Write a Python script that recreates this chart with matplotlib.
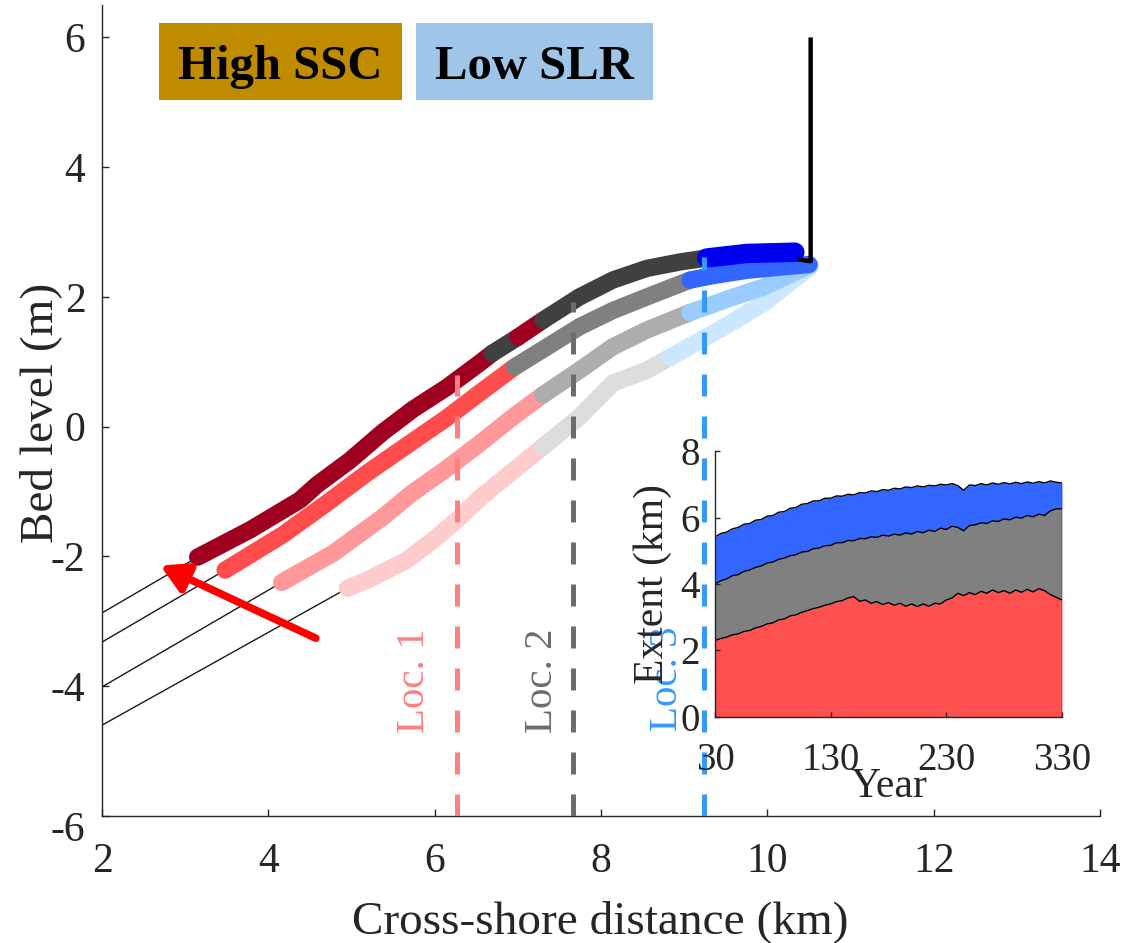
import matplotlib
matplotlib.use("Agg")
import matplotlib.pyplot as plt
from matplotlib.patches import Rectangle
from matplotlib.transforms import ScaledTranslation
import numpy as np

plt.rcParams['font.family'] = ['Liberation Serif', 'DejaVu Serif']

# ---------------- data ----------------
xticks = [2, 4, 6, 8, 10, 12, 14]
xtick_labels = ['2', '4', '6', '8', '10', '12', '14']
yticks = [-6, -4, -2, 0, 2, 4, 6]
ytick_labels = ['-6', '-4', '-2', '0', '2', '4', '6']

# profile 1 (darkest)
p1_x = [3.15, 3.78, 4.38, 4.58, 4.98, 5.38, 5.74, 6.15, 6.54, 6.69, 7.00, 7.30,
        7.74, 8.14, 8.55, 8.95, 9.27, 9.75, 10.33]
p1_z = [-2.01, -1.59, -1.13, -0.90, -0.52, -0.08, 0.27, 0.61, 0.98, 1.13, 1.38, 1.64,
        2.00, 2.26, 2.44, 2.54, 2.60, 2.67, 2.69]
p1_breaks = [3.15, 6.69, 7.00, 7.30, 9.27, 10.33]
p1_colors = ['#a00020', '#404040', '#a00020', '#404040', '#0000f0']
p1_widths = [12.5, 12.5, 12.5, 12.5, 14]

# profile 2
p2_x = [3.48, 4.18, 4.70, 5.18, 5.72, 6.15, 6.54, 6.96, 7.35, 7.74, 8.14, 8.55,
        9.07, 9.35, 9.75, 10.15, 10.50]
p2_z = [-2.21, -1.66, -1.18, -0.72, -0.24, 0.14, 0.52, 0.92, 1.23, 1.54, 1.79, 2.00,
        2.26, 2.33, 2.41, 2.46, 2.50]
p2_breaks = [3.48, 6.96, 9.07, 10.50]
p2_colors = ['#ff4d4d', '#808080', '#3366ff']
p2_widths = [12.5, 12.5, 12.5]

# profile 3
p3_x = [4.16, 4.78, 5.38, 5.72, 6.15, 6.54, 6.94, 7.30, 7.74, 8.14, 8.55, 9.07,
        9.55, 9.95, 10.51]
p3_z = [-2.40, -1.95, -1.39, -1.03, -0.64, -0.26, 0.15, 0.49, 0.87, 1.23, 1.49, 1.76,
        1.98, 2.15, 2.49]
p3_breaks = [4.16, 7.30, 9.07, 10.51]
p3_colors = ['#ff9999', '#adadad', '#99ccff']
p3_widths = [12.5, 12.5, 12.5]

# profile 4 (lightest)
p4_x = [4.95, 5.18, 5.66, 5.98, 6.30, 6.54, 7.30, 7.74, 8.14, 8.55, 8.83, 9.35,
        9.95, 10.51]
p4_z = [-2.49, -2.37, -2.06, -1.75, -1.40, -1.10, -0.31, 0.15, 0.67, 0.87, 1.07, 1.44,
        1.90, 2.46]
p4_breaks = [4.95, 7.30, 8.83, 10.51]
p4_colors = ['#ffcccc', '#dcdcdc', '#cce8ff']
p4_widths = [12.5, 12.5, 12.5]

# seaward (thin black) start elevations at x = 2 km
seaward_x = 2.0
seaward_z = [-2.87, -3.32, -4.01, -4.60]

# dike / wall
wall_x = [10.36, 10.52, 10.52]
wall_z = [2.58, 2.55, 6.0]

# location markers
loc_x = [6.27, 7.66, 9.24]
loc_top = [0.79, 1.92, 2.61]
loc_names = ['Loc. 1', 'Loc. 2', 'Loc. 3']
loc_colors = ['#ff7f7f', '#6f6b6b', '#3399ff']
loc_text_x = [5.76, 7.29, 8.80]
loc_text_y = [-3.91, -3.91, -3.88]

# arrow
arrow_tail = (4.57, -3.26)
arrow_head = (2.70, -2.14)

# inset: extent (km) boundaries, years 30..330 every 5 years
years = list(range(30, 335, 5))
b_red = [2.30, 2.36, 2.40, 2.47, 2.50, 2.57, 2.60, 2.68, 2.72, 2.80, 2.83, 2.92, 2.95,
         3.04, 3.07, 3.15, 3.20, 3.26, 3.30, 3.36, 3.40, 3.47, 3.50, 3.58, 3.62, 3.48,
         3.52, 3.42, 3.47, 3.38, 3.44, 3.36, 3.42, 3.33, 3.40, 3.32, 3.40, 3.33, 3.42,
         3.40, 3.52, 3.58, 3.72, 3.65, 3.74, 3.68, 3.78, 3.72, 3.82, 3.74, 3.80, 3.72,
         3.82, 3.75, 3.84, 3.76, 3.86, 3.80, 3.68, 3.60, 3.52]
b_grey = [4.00, 4.10, 4.15, 4.25, 4.28, 4.38, 4.42, 4.50, 4.54, 4.63, 4.66, 4.74, 4.78,
          4.85, 4.88, 4.96, 4.98, 5.06, 5.08, 5.15, 5.16, 5.24, 5.24, 5.31, 5.30, 5.37,
          5.36, 5.42, 5.40, 5.47, 5.44, 5.50, 5.47, 5.54, 5.50, 5.58, 5.54, 5.62, 5.58,
          5.68, 5.64, 5.74, 5.70, 5.60, 5.76, 5.78, 5.84, 5.82, 5.90, 5.88, 5.96, 5.93,
          6.01, 5.98, 6.06, 6.02, 6.10, 6.06, 6.20, 6.26, 6.26]
b_blue = [5.42, 5.52, 5.56, 5.66, 5.70, 5.80, 5.82, 5.92, 5.94, 6.04, 6.06, 6.16, 6.18,
          6.28, 6.30, 6.40, 6.42, 6.50, 6.50, 6.58, 6.58, 6.65, 6.64, 6.70, 6.68, 6.75,
          6.74, 6.80, 6.78, 6.84, 6.82, 6.88, 6.86, 6.92, 6.90, 6.95, 6.92, 6.97, 6.95,
          7.00, 6.98, 7.02, 6.96, 6.82, 6.98, 6.96, 7.02, 6.98, 7.04, 7.00, 7.05, 7.01,
          7.06, 7.02, 7.07, 7.03, 7.08, 7.04, 7.10, 7.06, 7.04]
inset_colors = ['#ff5050', '#808080', '#3366ff']
inset_xticks = [30, 130, 230, 330]
inset_yticks = [0, 2, 4, 6, 8]

legend_labels = ['High SSC', 'Low SLR']
legend_colors = ['#bf8c00', '#9fc5e8']

# ---------------- figure ----------------
TXT = '#262626'
fig = plt.figure(figsize=(11.44, 9.43), dpi=100)
ax = fig.add_axes([0.0892, 0.1347, 0.8724, 0.860])


def draw_profile(x, z, breaks, colors, widths, z0):
    x = np.asarray(x)
    z = np.asarray(z)
    ax.plot([seaward_x, x[0]], [z0, z[0]], color='#1a1a1a', lw=1.0, zorder=2)
    for k, c in enumerate(colors):
        m = (x >= breaks[k] - 1e-9) & (x <= breaks[k + 1] + 1e-9)
        ax.plot(x[m], z[m], color=c, lw=widths[k], solid_capstyle='round',
                solid_joinstyle='round', zorder=3)


draw_profile(p4_x, p4_z, p4_breaks, p4_colors, p4_widths, seaward_z[3])
draw_profile(p3_x, p3_z, p3_breaks, p3_colors, p3_widths, seaward_z[2])
draw_profile(p2_x, p2_z, p2_breaks, p2_colors, p2_widths, seaward_z[1])
draw_profile(p1_x, p1_z, p1_breaks, p1_colors, p1_widths, seaward_z[0])

ax.plot(wall_x, wall_z, color='black', lw=3.2, zorder=4, solid_capstyle='butt')

for xl, top, name, c, tx, ty in zip(loc_x, loc_top, loc_names, loc_colors,
                                    loc_text_x, loc_text_y):
    ax.plot([xl, xl], [-6, top], color=c, lw=3.6, dashes=(4.4, 4.0), zorder=5,
            dash_capstyle='butt')
    ax.text(tx, ty, name, color=c, fontsize=29.5, rotation=90,
            ha='center', va='center', zorder=6)

ax.annotate('', xy=arrow_head, xytext=arrow_tail,
            arrowprops=dict(arrowstyle='-|>,head_length=0.8,head_width=0.45',
                            lw=5.5, color='#ff0000', mutation_scale=20,
                            shrinkA=0, shrinkB=0), zorder=6)

ax.set_xlim(2, 14)
ax.set_ylim(-6, 6.5)
ax.set_xticks(xticks)
ax.set_xticklabels(xtick_labels)
ax.set_yticks(yticks)
ax.set_yticklabels(ytick_labels)
for s in ['top', 'right']:
    ax.spines[s].set_visible(False)
for s in ['left', 'bottom']:
    ax.spines[s].set_color(TXT)
    ax.spines[s].set_linewidth(1.0)
ax.tick_params(axis='both', direction='in', length=5, width=1.0, colors=TXT,
               labelsize=30)
ax.tick_params(axis='x', pad=19)
ax.tick_params(axis='y', pad=12)
# lowest y tick label sits a little below its tick, as in the original
lab0 = ax.get_yticklabels()[0]
lab0.set_transform(lab0.get_transform() + ScaledTranslation(0, -0.10, fig.dpi_scale_trans))
ax.set_xlabel('Cross-shore distance (km)', fontsize=34, color=TXT)
ax.set_ylabel('Bed level (m)', fontsize=34, color=TXT)
ax.xaxis.set_label_coords(0.499, -0.1036)
ax.yaxis.set_label_coords(-0.040, 0.497)

# ---------------- inset ----------------
ax2 = fig.add_axes([0.625, 0.2397, 0.3033, 0.282])
ax2.set_facecolor('none')
ax2.fill_between(years, 0, b_red, color=inset_colors[0], lw=0)
ax2.fill_between(years, b_red, b_grey, color=inset_colors[1], lw=0)
ax2.fill_between(years, b_grey, b_blue, color=inset_colors[2], lw=0)
for b in (b_red, b_grey, b_blue):
    ax2.plot(years, b, color='black', lw=1.0)
ax2.plot([years[-1], years[-1]], [0, b_blue[-1]], color='#333333', lw=1.0)
ax2.set_xlim(30, 330)
ax2.set_ylim(0, 8)
ax2.set_xticks(inset_xticks)
ax2.set_yticks(inset_yticks)
for s in ['top', 'right']:
    ax2.spines[s].set_visible(False)
for s in ['left', 'bottom']:
    ax2.spines[s].set_color(TXT)
    ax2.spines[s].set_linewidth(1.0)
ax2.tick_params(axis='both', direction='in', length=3.5, width=1.0, colors=TXT,
                labelsize=28)
ax2.tick_params(axis='x', pad=18)
ax2.tick_params(axis='y', pad=11)
ax2.set_xlabel('Year', fontsize=30, color=TXT)
ax2.set_ylabel('Extent (km)', fontsize=30, color=TXT)
ax2.xaxis.set_label_coords(0.50, -0.19)
ax2.yaxis.set_label_coords(-0.125, 0.50)

# ---------------- legend boxes ----------------
W, H = 1144.0, 943.0
box_px = [(159, 402), (416, 653)]
for (x0, x1), lab, col in zip(box_px, legend_labels, legend_colors):
    fig.patches.append(Rectangle((x0 / W, 1 - 100 / H), (x1 - x0) / W, 77 / H,
                                 transform=fig.transFigure, facecolor=col,
                                 edgecolor='none', zorder=0))
    fig.text((x0 + x1) / 2 / W, 1 - 79 / H, lab, fontsize=35, fontweight='bold',
             color='black', ha='center', va='baseline')

fig.savefig('out.png', dpi=100)
